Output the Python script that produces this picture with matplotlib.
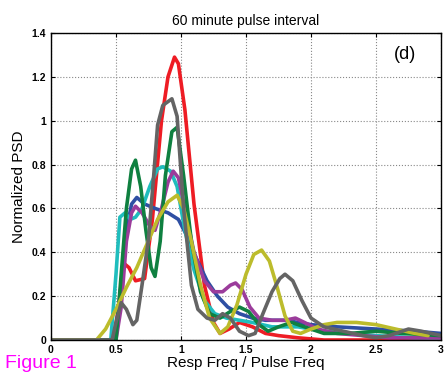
import matplotlib
matplotlib.use('Agg')
import matplotlib.pyplot as plt

plt.rcParams.update({
    'font.family': ['Liberation Sans', 'DejaVu Sans'],
    'xtick.direction': 'in',
    'ytick.direction': 'in',
})

# Series (x = Resp Freq / Pulse Freq, y = Normalized PSD)
red_x = [0, 0.48, 0.52, 0.56, 0.6, 0.65, 0.72, 0.78, 0.85, 0.9, 0.95, 0.98, 1.03, 1.1, 1.18, 1.25, 1.3, 1.37, 1.45, 1.55, 1.65, 1.75, 1.9, 2.1, 2.5, 2.9, 3.0]
red_y = [0, 0, 0.15, 0.35, 0.33, 0.27, 0.28, 0.55, 1.0, 1.2, 1.29, 1.26, 1.05, 0.62, 0.25, 0.08, 0.03, 0.05, 0.08, 0.06, 0.03, 0.02, 0.01, 0.0, 0.0, 0.01, 0.01]

gray_x = [0, 0.47, 0.5, 0.54, 0.58, 0.63, 0.66, 0.7, 0.75, 0.79, 0.82, 0.86, 0.93, 0.97, 1.02, 1.08, 1.13, 1.2, 1.26, 1.32, 1.38, 1.45, 1.52, 1.57, 1.63, 1.7, 1.76, 1.8, 1.86, 1.93, 2.0, 2.1, 2.25, 2.4, 2.5, 2.6, 2.75, 2.85, 3.0]
gray_y = [0, 0, 0.08, 0.17, 0.14, 0.07, 0.09, 0.25, 0.46, 0.75, 0.98, 1.07, 1.10, 1.02, 0.6, 0.25, 0.14, 0.10, 0.09, 0.12, 0.10, 0.04, 0.02, 0.03, 0.12, 0.22, 0.28, 0.30, 0.27, 0.18, 0.10, 0.06, 0.04, 0.02, 0.01, 0.02, 0.05, 0.04, 0.02]

green_x = [0, 0.5, 0.54, 0.58, 0.62, 0.65, 0.69, 0.73, 0.77, 0.8, 0.84, 0.88, 0.93, 0.97, 1.02, 1.08, 1.15, 1.22, 1.3, 1.38, 1.45, 1.52, 1.6, 1.67, 1.75, 1.85, 1.95, 2.1, 2.3, 2.5, 2.7, 3.0]
green_y = [0, 0, 0.3, 0.6, 0.78, 0.82, 0.7, 0.5, 0.33, 0.29, 0.45, 0.75, 0.95, 0.97, 0.75, 0.45, 0.22, 0.12, 0.10, 0.13, 0.15, 0.13, 0.07, 0.04, 0.06, 0.08, 0.06, 0.03, 0.03, 0.04, 0.03, 0.02]

cyan_x = [0, 0.46, 0.5, 0.53, 0.57, 0.61, 0.65, 0.7, 0.76, 0.82, 0.86, 0.92, 0.97, 1.03, 1.1, 1.18, 1.26, 1.35, 1.45, 1.55, 1.7, 1.9, 2.1, 2.3, 2.5, 2.8, 3.0]
cyan_y = [0, 0, 0.3, 0.56, 0.58, 0.55, 0.56, 0.6, 0.7, 0.78, 0.79, 0.77, 0.7, 0.5, 0.32, 0.18, 0.12, 0.1, 0.09, 0.08, 0.06, 0.06, 0.04, 0.03, 0.02, 0.01, 0.01]

blue_x = [0, 0.49, 0.53, 0.58, 0.62, 0.66, 0.72, 0.8, 0.9, 0.98, 1.05, 1.12, 1.2, 1.28, 1.36, 1.45, 1.55, 1.65, 1.8, 1.9, 2.0, 2.2, 2.5, 2.8, 3.0]
blue_y = [0, 0, 0.2, 0.5, 0.62, 0.65, 0.62, 0.6, 0.58, 0.55, 0.47, 0.37, 0.27, 0.2, 0.15, 0.12, 0.10, 0.09, 0.09, 0.08, 0.07, 0.06, 0.05, 0.04, 0.03]

purple_x = [0, 0.5, 0.54, 0.58, 0.62, 0.65, 0.7, 0.76, 0.8, 0.85, 0.9, 0.94, 0.98, 1.03, 1.1, 1.18, 1.25, 1.32, 1.38, 1.42, 1.47, 1.53, 1.6, 1.7, 1.8, 1.88, 1.95, 2.05, 2.2, 2.4, 2.6, 3.0]
purple_y = [0, 0, 0.15, 0.45, 0.58, 0.61, 0.58, 0.52, 0.5, 0.6, 0.72, 0.77, 0.74, 0.6, 0.4, 0.27, 0.22, 0.22, 0.25, 0.26, 0.23, 0.15, 0.10, 0.09, 0.09, 0.10, 0.08, 0.05, 0.03, 0.02, 0.01, 0.01]

yellow_x = [0, 0.35, 0.42, 0.5, 0.58, 0.66, 0.74, 0.82, 0.9, 0.97, 1.02, 1.08, 1.15, 1.22, 1.3, 1.36, 1.43, 1.5, 1.56, 1.62, 1.68, 1.74, 1.8, 1.86, 1.92, 2.0, 2.1, 2.2, 2.35, 2.5, 2.65, 2.8, 2.9]
yellow_y = [0, 0, 0.05, 0.14, 0.24, 0.33, 0.44, 0.55, 0.63, 0.66, 0.6, 0.45, 0.25, 0.1, 0.03, 0.06, 0.16, 0.3, 0.39, 0.41, 0.36, 0.24, 0.11, 0.04, 0.03, 0.05, 0.07, 0.08, 0.08, 0.07, 0.05, 0.03, 0.02]

series = [
    (red_x, red_y, '#ee1c24'),
    (blue_x, blue_y, '#2e4fa3'),
    (cyan_x, cyan_y, '#1fbdbd'),
    (purple_x, purple_y, '#9b3c9b'),
    (green_x, green_y, '#0f8040'),
    (yellow_x, yellow_y, '#bcbc2c'),
    (gray_x, gray_y, '#646464'),
]

fig = plt.figure(figsize=(4.45, 3.79), dpi=100)
ax = fig.add_axes([0.1146, 0.1029, 0.8764, 0.81])

for xs, ys, c in series:
    ax.plot(xs, ys, color=c, linewidth=2.6, solid_joinstyle='round', solid_capstyle='round')

ax.set_xlim(0, 3)
ax.set_ylim(0, 1.4)
ax.set_xticks([0, 0.5, 1, 1.5, 2, 2.5, 3])
ax.set_xticklabels(['0', '0.5', '1', '1.5', '2', '2.5', '3'])
ax.set_yticks([0, 0.2, 0.4, 0.6, 0.8, 1.0, 1.2, 1.4])
ax.set_yticklabels(['0', '0.2', '0.4', '0.6', '0.8', '1', '1.2', '1.4'])
ax.tick_params(labelsize=7.5, top=True, right=True, length=3)
for lab in ax.get_xticklabels() + ax.get_yticklabels():
    lab.set_fontweight('bold')
ax.grid(True, linestyle=':', color='#888888', linewidth=0.8)
for sp in ax.spines.values():
    sp.set_linewidth(1.0)

ax.set_title('60 minute pulse interval', fontsize=10, pad=6)
ax.set_xlabel('Resp Freq / Pulse Freq', fontsize=11, labelpad=1)
ax.set_ylabel('Normalized PSD', fontsize=11, labelpad=4)
ax.text(2.72, 1.3, '(d)', fontsize=13, ha='center', va='center')
fig.text(0.012, 0.04, 'Figure 1', color='#ff00ff', fontsize=14, ha='left', va='center')

plt.savefig('out.png', dpi=100)
